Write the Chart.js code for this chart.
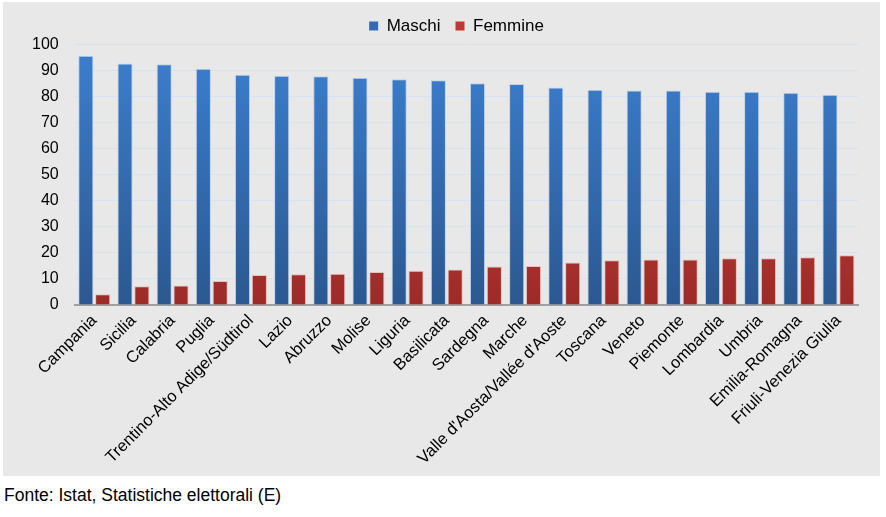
<!DOCTYPE html>
<html>
<head>
<meta charset="utf-8">
<script src="https://cdn.jsdelivr.net/npm/chart.js@4"></script>
<style>
  html, body { margin: 0; padding: 0; background: #ffffff; }
  #panel { position: absolute; left: 3px; top: 2px; width: 877px; height: 474px; background: #e8e8e8; }
  #footer { position: absolute; left: 4px; top: 485px; font-family: "Liberation Sans", Arial, sans-serif; font-size: 17.5px; color: #000; white-space: nowrap; }
</style>
</head>
<body>
<div id="panel"><canvas id="c" width="877" height="474"></canvas></div>
<div id="footer">Fonte: Istat, Statistiche elettorali (E)</div>
<script>
const categories = ["Campania","Sicilia","Calabria","Puglia","Trentino-Alto Adige/Südtirol","Lazio","Abruzzo","Molise","Liguria","Basilicata","Sardegna","Marche","Valle d'Aosta/Vallée d'Aoste","Toscana","Veneto","Piemonte","Lombardia","Umbria","Emilia-Romagna","Friuli-Venezia Giulia"];
const maschi = [95.7, 92.7, 92.4, 90.7, 88.4, 88.0, 87.8, 87.2, 86.7, 86.3, 85.1, 84.8, 83.5, 82.6, 82.3, 82.3, 81.9, 81.9, 81.5, 80.7];
const femmine = [4.1, 7.2, 7.5, 9.2, 11.5, 11.8, 12.0, 12.7, 13.1, 13.6, 14.8, 15.0, 16.3, 17.2, 17.5, 17.5, 17.9, 17.9, 18.3, 19.1];
const yTicks = [0,10,20,30,40,50,60,70,80,90,100];
const seriesNames = ["Maschi","Femmine"];

function grad(ctx, top, bottom) {
  const chart = ctx.chart;
  const area = chart.chartArea;
  if (!area) return top;
  const g = chart.ctx.createLinearGradient(0, area.top, 0, area.bottom);
  g.addColorStop(0, top);
  g.addColorStop(1, bottom);
  return g;
}

const solid = ["#3569b3", "#c03833"];
const FONT = "'Liberation Sans', Arial, sans-serif";

const shiftLegend = {
  id: 'shiftLegend',
  afterLayout(chart) {
    if (chart.legend) { chart.legend.left += 19.5; chart.legend.right += 19.5; }
  }
};

new Chart(document.getElementById('c'), {
  type: 'bar',
  data: {
    labels: categories,
    datasets: [
      { label: seriesNames[0], data: maschi,
        backgroundColor: c => grad(c, "#3c7fd0", "#2b5890"),
        borderColor: "rgba(180,205,235,0.8)", borderWidth: 1,
        categoryPercentage: 0.86, barPercentage: 0.9 },
      { label: seriesNames[1], data: femmine,
        backgroundColor: c => grad(c, "#d8443e", "#9c2b28"),
        borderColor: "rgba(235,180,178,0.8)", borderWidth: 1,
        categoryPercentage: 0.86, barPercentage: 0.9 }
    ]
  },
  plugins: [shiftLegend],
  options: {
    responsive: false,
    animation: false,
    devicePixelRatio: 1,
    layout: { padding: { left: 13, right: 22, top: 0.5, bottom: 0 } },
    plugins: {
      tooltip: { enabled: false },
      legend: {
        position: 'top',
        labels: {
          boxWidth: 9, boxHeight: 9, padding: 15,
          color: '#000',
          font: { family: FONT, size: 17 },
          generateLabels: chart => chart.data.datasets.map((d, i) => ({
            text: d.label, fillStyle: solid[i], strokeStyle: solid[i], lineWidth: 0,
            datasetIndex: i, hidden: false
          }))
        }
      }
    },
    scales: {
      y: {
        min: 0, max: 100,
        afterBuildTicks: s => { s.ticks = yTicks.map(v => ({ value: v })); },
        ticks: { color: '#000', padding: 16, font: { family: FONT, size: 16 } },
        grid: { color: '#d4e2f2', lineWidth: 1, drawTicks: false },
        border: { display: false }
      },
      x: {
        afterFit: s => { s.height = 171; s.paddingLeft = 0; s.paddingRight = 0; },
        ticks: { color: '#000', maxRotation: 45, minRotation: 45, autoSkip: false, padding: 6,
          font: { family: FONT, size: 16.5 } },
        grid: { display: false, drawTicks: false },
        border: { color: '#a0a0a0', width: 2 }
      }
    }
  }
});
</script>
</body>
</html>
